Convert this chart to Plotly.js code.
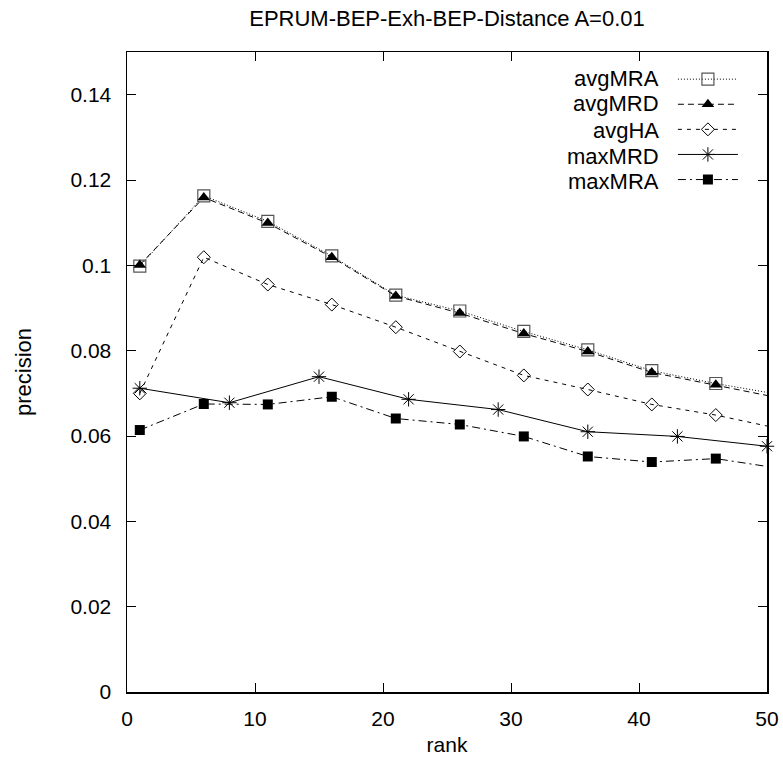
<!DOCTYPE html>
<html>
<head>
<meta charset="utf-8">
<script src="https://cdn.plot.ly/plotly-3.0.1.min.js"></script>
<style>html,body{margin:0;padding:0;background:#fff;}#chart{width:783px;height:762px;}</style>
</head>
<body>
<div id="chart"></div>
<script>
// ranks
const ranksStep5 = [1, 6, 11, 16, 21, 26, 31, 36, 41, 46, 51];
const ranksStep7 = [1, 8, 15, 22, 29, 36, 43, 50];

// series
const seriesNames = ["avgMRA", "avgMRD", "avgHA", "maxMRD", "maxMRA"];
const avgMRA = [0.0998, 0.1163, 0.1103, 0.1022, 0.0930, 0.0893, 0.0845, 0.0802, 0.0753, 0.0723, 0.0697];
const avgMRD = [0.1001, 0.1159, 0.1099, 0.1019, 0.0928, 0.0888, 0.0840, 0.0798, 0.0749, 0.0720, 0.0689];
const avgHA  = [0.0700, 0.1019, 0.0955, 0.0908, 0.0855, 0.0798, 0.0742, 0.0709, 0.0674, 0.0649, 0.0617];
const maxMRD = [0.0712, 0.0678, 0.0739, 0.0686, 0.0662, 0.0610, 0.0599, 0.0576];
const maxMRA = [0.0614, 0.0675, 0.0674, 0.0692, 0.0641, 0.0627, 0.0599, 0.0552, 0.0539, 0.0547, 0.0524];

// ticks
const xTicks = [0, 10, 20, 30, 40, 50];
const yTicks = [0, 0.02, 0.04, 0.06, 0.08, 0.1, 0.12, 0.14];
const yTickLabels = ["0", "0.02", "0.04", "0.06", "0.08", "0.1", "0.12", "0.14"];

const FONT = "Liberation Sans, Arial, Helvetica, sans-serif";
const FS = 21;
const FS_BIG = 22;

const styles = [
  {dash: "1px,2px", symbol: "square-open", size: 12, mcolor: "#555", mline: 1.2, clip: true},
  {dash: "6px,4px", symbol: "triangle-up", size: 11, mcolor: "#000", mline: 0, clip: true},
  {dash: "4px,5px", symbol: "diamond-open", size: 10, mcolor: "#000", mline: 1, clip: true},
  {dash: "solid", symbol: "asterisk-open", size: 12, mcolor: "#000", mline: 1, clip: false},
  {dash: "8px,4px,2px,4px", symbol: "square", size: 10, mcolor: "#000", mline: 0, clip: true}
];
const xs = [ranksStep5, ranksStep5, ranksStep5, ranksStep7, ranksStep5];
const ys = [avgMRA, avgMRD, avgHA, maxMRD, maxMRA];

const traces = seriesNames.map((nm, i) => ({
  type: "scatter",
  mode: "lines+markers",
  x: xs[i],
  y: ys[i],
  name: "",
  meta: nm,
  legendgroup: nm,
  cliponaxis: styles[i].clip,
  line: {color: "#000", width: 1, dash: styles[i].dash},
  marker: {symbol: styles[i].symbol, size: styles[i].size, color: styles[i].mcolor,
           line: {color: styles[i].mcolor, width: styles[i].mline}},
  hovertemplate: nm + ": %{y}<extra></extra>"
}));

const legendRowsY = [0.959, 0.919, 0.878, 0.8375, 0.797];
const annotations = seriesNames.map((nm, i) => ({
  xref: "paper", yref: "paper", x: 0.835, y: legendRowsY[i],
  xanchor: "right", yanchor: "middle", showarrow: false,
  text: nm, font: {family: FONT, size: FS_BIG, color: "#000"}
}));

const axisCommon = {
  showline: true, linecolor: "#000", linewidth: 1.5, mirror: "ticks",
  ticks: "inside", ticklen: 9, tickcolor: "#000", tickwidth: 1,
  showgrid: false, zeroline: false,
  tickfont: {family: FONT, size: FS, color: "#000"}
};

const layout = {
  width: 783, height: 762,
  margin: {l: 127, r: 16, t: 52, b: 70},
  paper_bgcolor: "#fff", plot_bgcolor: "#fff",
  title: {text: "EPRUM-BEP-Exh-BEP-Distance A=0.01", x: 0.5, xref: "paper", xanchor: "center",
          y: 0.9757, yref: "container", yanchor: "middle",
          font: {family: FONT, size: FS_BIG, color: "#000"}},
  xaxis: Object.assign({}, axisCommon, {
    range: [0, 50], tickvals: xTicks, ticktext: xTicks.map(String), ticklabelstandoff: 7,
    title: {text: "rank", font: {family: FONT, size: FS, color: "#000"}, standoff: 8}
  }),
  yaxis: Object.assign({}, axisCommon, {
    range: [0, 0.15], tickvals: yTicks, ticktext: yTickLabels, ticklabelstandoff: 10,
    title: {text: "precision", font: {family: FONT, size: FS_BIG, color: "#000"}, standoff: 32}
  }),
  showlegend: true,
  legend: {x: 0.853, xanchor: "left", y: 0.985, yanchor: "top", bgcolor: "rgba(0,0,0,0)",
           itemwidth: 60, font: {family: FONT, size: 17}, tracegroupgap: 0},
  annotations: annotations
};

Plotly.newPlot("chart", traces, layout, {displayModeBar: false, staticPlot: true});
</script>
</body>
</html>
